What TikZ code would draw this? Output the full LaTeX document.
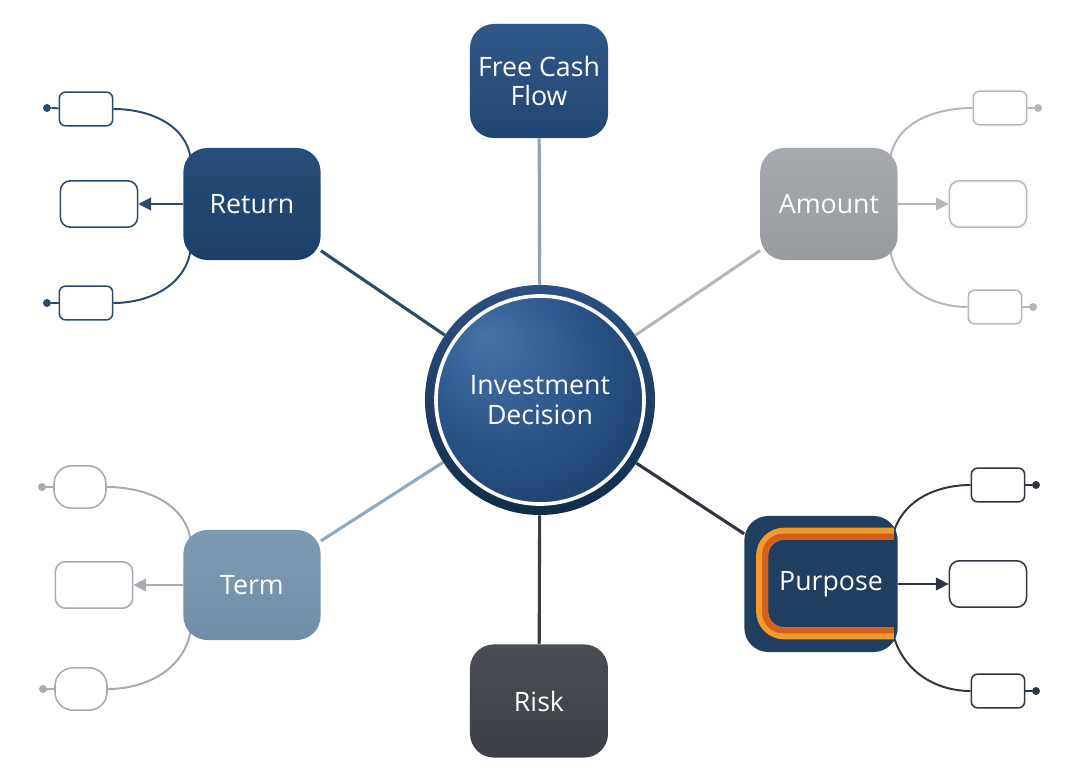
\documentclass[tikz,border=0pt]{standalone}
\usepackage{fontspec}
\setmainfont{Open Sans}
\usetikzlibrary{arrows.meta,calc,backgrounds}

\definecolor{ringtop}{HTML}{2A5282}
\definecolor{ringbot}{HTML}{122B4A}
\definecolor{ballhi}{HTML}{4473A8}
\definecolor{ballmid}{HTML}{264F82}
\definecolor{balldark}{HTML}{0E2746}
\definecolor{fcftop}{HTML}{2F5889}
\definecolor{fcfbot}{HTML}{224673}
\definecolor{rettop}{HTML}{254E7A}
\definecolor{retbot}{HTML}{1C3F67}
\definecolor{amttop}{HTML}{A6AAAE}
\definecolor{amtbot}{HTML}{989CA1}
\definecolor{trmtop}{HTML}{7E9BB6}
\definecolor{trmbot}{HTML}{718DA8}
\definecolor{purfill}{HTML}{1F3E60}
\definecolor{rsktop}{HTML}{4A4D53}
\definecolor{rskbot}{HTML}{3C3F45}
\definecolor{bandlight}{HTML}{F4992C}
\definecolor{banddark}{HTML}{D2601A}
\definecolor{fcfline}{HTML}{8CA2B7}
\definecolor{retline}{HTML}{2C4A6B}
\definecolor{amtline}{HTML}{B4B7BA}
\definecolor{trmline}{HTML}{A5ABB1}
\definecolor{trmspoke}{HTML}{92A8BD}
\definecolor{purline}{HTML}{2D3540}
\definecolor{rskline}{HTML}{3B3E43}

\pgfdeclareradialshading{decball}{\pgfpoint{-12bp}{14bp}}{%
  color(0bp)=(ballhi); color(22bp)=(ballmid); color(50bp)=(balldark)}

\begin{document}
\begin{tikzpicture}[
		x=0.025cm, y=0.025cm,
		every node/.style = {font=\fontsize{19}{21}\selectfont,
			text=white, align=center},
		topic/.style = {shape=rectangle, rounded corners=0.6cm,
			minimum width=3.43cm, minimum height=2.8cm},
		leaf/.style = {shape=rectangle, draw, fill=white, line width=1.1pt,
			rounded corners=0.15cm, minimum width=1.33cm, minimum height=0.84cm},
		bigleaf/.style = {leaf, rounded corners=0.25cm,
			minimum width=1.93cm, minimum height=1.16cm},
		roundleaf/.style = {leaf, rounded corners=0.45cm,
			minimum width=1.3cm, minimum height=1.06cm},
		endpt/.style = {shape=circle, fill, inner sep=0pt, minimum size=0.2cm},
		spoke/.style = {line width=2.2pt},
		twig/.style = {line width=1.4pt},
		tip/.style = {-{Triangle[length=0.32cm, width=0.32cm]}}]
		\useasboundingbox (0,0) rectangle (1080,778);

		% hub
		\node[shape=circle, minimum size=5.75cm, top color=ringtop, bottom color=ringbot,
			path picture={
				\shade[shading=decball] (path picture bounding box.center) circle (2.6cm);
				\draw[white, line width=2.6pt] (path picture bounding box.center) circle (2.6cm);
			}] (dec) at (540,378) {Investment\\Decision};

		% topics
		\node[topic, minimum width=3.45cm, minimum height=2.85cm,
			top color=fcftop, bottom color=fcfbot] (fcf) at (539,697) {Free Cash\\Flow};
		\node[topic, top color=rettop, bottom color=retbot] (ret) at (252,574) {Return};
		\node[topic, top color=amttop, bottom color=amtbot] (amt) at (829,574) {Amount};
		\node[topic, minimum height=2.75cm,
			top color=trmtop, bottom color=trmbot] (trm) at (252,193) {Term};
		\node[topic, minimum width=3.83cm, minimum height=3.4cm,
			fill=purfill] (pur) at (821,194) {};
		\draw[line width=0.3cm, bandlight, rounded corners=0.55cm]
			($(pur.north east)+(-4,-18)$) -| ($(pur.south west)+(18,19)$)
			-- ($(pur.south east)+(-4,19)$);
		\draw[line width=0.15cm, banddark, rounded corners=0.45cm]
			($(pur.north east)+(-4,-21)$) -| ($(pur.south west)+(21,22)$)
			-- ($(pur.south east)+(-4,22)$);
		\node (purtext) at ($(pur.center)+(10,0)$) {Purpose};
		\node[topic, minimum width=3.45cm, minimum height=2.83cm,
			top color=rsktop, bottom color=rskbot] (rsk) at (539,77) {Risk};

		% leaves
		\node[leaf, draw=retline] (rl1) at (86,669) {};
		\node[bigleaf, draw=retline] (rl2) at (99,574) {};
		\node[leaf, draw=retline] (rl3) at (86,475) {};
		\node[endpt, retline] (rd1) at (47,670) {};
		\node[endpt, retline] (rd3) at (47,475) {};

		\node[leaf, draw=amtline] (al1) at (1000,670) {};
		\node[bigleaf, draw=amtline] (al2) at (988,574) {};
		\node[leaf, draw=amtline] (al3) at (995,471) {};
		\node[endpt, amtline] (ad1) at (1038,670) {};
		\node[endpt, amtline] (ad3) at (1033,471) {};

		\node[roundleaf, draw=trmline] (tl1) at (80,291) {};
		\node[bigleaf, draw=trmline] (tl2) at (94,193) {};
		\node[roundleaf, draw=trmline] (tl3) at (81,89) {};
		\node[endpt, trmline] (td1) at (42,291) {};
		\node[endpt, trmline] (td3) at (43,89) {};

		\node[leaf, draw=purline] (pl1) at (998,293) {};
		\node[bigleaf, draw=purline] (pl2) at (988,194) {};
		\node[leaf, draw=purline] (pl3) at (998,87) {};
		\node[endpt, purline] (pd1) at (1036,293) {};
		\node[endpt, purline] (pd3) at (1036,87) {};

		\begin{pgfonlayer}{background}
			\fill[white] (0,0) rectangle (1080,778);
			\draw[spoke, fcfline] (dec) -- (fcf);
			\draw[spoke, retline] (dec) -- (ret);
			\draw[spoke, amtline] (dec) -- (amt);
			\draw[spoke, trmspoke] (dec) -- (trm);
			\draw[spoke, purline] (dec) -- (pur);
			\draw[spoke, rskline] (dec) -- (rsk);

			\draw[twig, retline] (rd1) -- (rl1);
			\draw[twig, retline] (rd3) -- (rl3);
			\draw[twig, retline] (rl1.east) to[out=0, in=95] ($(ret.north west)+(8,-14)$);
			\draw[twig, retline] (rl3.east) to[out=0, in=-95] ($(ret.south west)+(8,14)$);

			\draw[twig, amtline] (ad1) -- (al1);
			\draw[twig, amtline] (ad3) -- (al3);
			\draw[twig, amtline] (al1.west) to[out=180, in=85] ($(amt.north east)+(-8,-14)$);
			\draw[twig, amtline] (al3.west) to[out=180, in=-85] ($(amt.south east)+(-8,14)$);

			\draw[twig, trmline] (td1) -- (tl1);
			\draw[twig, trmline] (td3) -- (tl3);
			\draw[twig, trmline] (tl1.east) to[out=0, in=95] ($(trm.north west)+(8,-14)$);
			\draw[twig, trmline] (tl3.east) to[out=0, in=-95] ($(trm.south west)+(8,14)$);

			\draw[twig, purline] (pd1) -- (pl1);
			\draw[twig, purline] (pd3) -- (pl3);
			\draw[twig, purline] (pl1.west) to[out=180, in=80] ($(pur.north east)+(-6,-24)$);
			\draw[twig, purline] (pl3.west) to[out=180, in=-80] ($(pur.south east)+(-6,24)$);
		\end{pgfonlayer}

		\draw[twig, retline, tip] (ret) -- (rl2);
		\draw[twig, amtline, tip] (amt) -- (al2);
		\draw[twig, trmline, tip] (trm) -- (tl2);
		\draw[twig, purline, tip] (pur) -- (pl2);
		\end{tikzpicture}
\end{document}
